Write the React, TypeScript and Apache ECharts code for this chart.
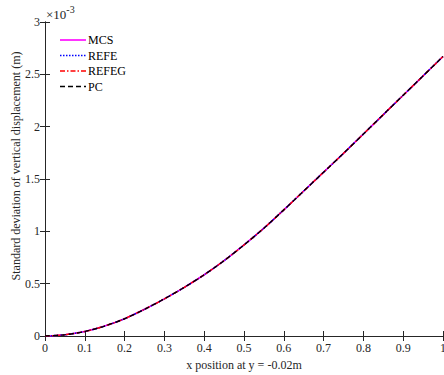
import React, { useEffect, useRef } from "react";
import * as echarts from "echarts";

// x positions (m)
const xPos = [0, 0.05, 0.1, 0.15, 0.2, 0.25, 0.3, 0.35, 0.4, 0.45, 0.5, 0.55, 0.6, 0.65, 0.7, 0.75, 0.8, 0.85, 0.9, 0.95, 1.0];
// standard deviation values in units of 1e-3 m
const mcs = [0, 0.012, 0.043, 0.095, 0.165, 0.255, 0.355, 0.465, 0.585, 0.72, 0.87, 1.03, 1.205, 1.385, 1.565, 1.745, 1.93, 2.115, 2.3, 2.485, 2.67];
const refe = [0, 0.012, 0.043, 0.095, 0.165, 0.255, 0.355, 0.465, 0.585, 0.72, 0.87, 1.03, 1.205, 1.385, 1.565, 1.745, 1.93, 2.115, 2.3, 2.485, 2.67];
const refeg = [0, 0.012, 0.043, 0.095, 0.165, 0.255, 0.355, 0.465, 0.585, 0.72, 0.87, 1.03, 1.205, 1.385, 1.565, 1.745, 1.93, 2.115, 2.3, 2.485, 2.67];
const pc = [0, 0.012, 0.043, 0.095, 0.165, 0.255, 0.355, 0.465, 0.585, 0.72, 0.87, 1.03, 1.205, 1.385, 1.565, 1.745, 1.93, 2.115, 2.3, 2.485, 2.67];
const seriesNames = ["MCS", "REFE", "REFEG", "PC"];
const seriesColors = ["#ff00ff", "#0000ff", "#ff0000", "#000000"];
const seriesDash: (number[] | null)[] = [null, [1.5, 1.5], [5, 2, 1.5, 2], [5, 3]];
const seriesWidth = [1.6, 1.5, 1.4, 1.4];
const seriesData = [mcs, refe, refeg, pc];

const FONT = "Times New Roman";
const AX = "#262626";

export default function App() {
  const ref = useRef<HTMLDivElement>(null);
  useEffect(() => {
    if (!ref.current) return;
    const chart = echarts.init(ref.current, null, { renderer: "svg" });
    const pair = (ys: number[]) => xPos.map((x, i) => [x, ys[i]]);
    const axisCommon = {
      axisLine: { show: true, lineStyle: { color: AX, width: 1 } },
      axisTick: { show: true, inside: true, length: 5, lineStyle: { color: AX } },
      splitLine: { show: false },
    };
    const legendGraphics: any[] = [];
    seriesNames.forEach((n, i) => {
      const y = 40 + i * 15.5;
      legendGraphics.push({
        type: "line",
        shape: { x1: 60, y1: y, x2: 86, y2: y },
        style: { stroke: seriesColors[i], lineWidth: seriesWidth[i], lineDash: seriesDash[i] || undefined },
      });
      legendGraphics.push({
        type: "text",
        x: 88,
        y: y,
        style: { text: n, fontFamily: FONT, fontSize: 12, fill: "#000", verticalAlign: "middle", align: "left" },
      });
    });
    chart.setOption({
      animation: false,
      backgroundColor: "#ffffff",
      textStyle: { fontFamily: FONT },
      grid: { left: 45, right: 1, top: 22, bottom: 39, containLabel: false, outerBoundsMode: "none" },
      xAxis: [
        {
          type: "value",
          min: 0,
          max: 1,
          interval: 0.1,
          ...axisCommon,
          axisLabel: { fontFamily: FONT, fontSize: 12, color: AX, margin: 6, formatter: (v: number) => String(+v.toFixed(1)) },
          name: "x position at y = -0.02m",
          nameLocation: "middle",
          nameGap: 20,
          nameTextStyle: { fontFamily: FONT, fontSize: 12, color: AX },
        },
        { type: "value", min: 0, max: 1, interval: 0.1, position: "top", ...axisCommon, axisLabel: { show: false } },
      ],
      yAxis: [
        {
          type: "value",
          min: 0,
          max: 3,
          interval: 0.5,
          ...axisCommon,
          axisLabel: { fontFamily: FONT, fontSize: 12, color: AX, margin: 5, formatter: (v: number) => String(+v.toFixed(1)) },
        },
        { type: "value", min: 0, max: 3, interval: 0.5, position: "right", ...axisCommon, axisLabel: { show: false } },
      ],
      graphic: [
        {
          type: "text",
          left: 46,
          top: 4,
          style: {
            text: "{a|×10}{b|-3}",
            rich: {
              a: { fontFamily: FONT, fontSize: 13, fill: AX, verticalAlign: "bottom" },
              b: { fontFamily: FONT, fontSize: 10, fill: AX, verticalAlign: "top", padding: [0, 0, 7, 0] },
            },
          },
        },
        {
          type: "text",
          x: 16,
          y: 166,
          rotation: Math.PI / 2,
          style: {
            text: "Standard deviation of vertical displacement (m)",
            fontFamily: FONT,
            fontSize: 12,
            fill: AX,
            align: "center",
            verticalAlign: "middle",
          },
        },
        ...legendGraphics,
      ],
      series: seriesNames.map((n, i) => ({
        name: n,
        type: "line",
        data: pair(seriesData[i]),
        smooth: 0.3,
        symbol: "none",
        lineStyle: { color: seriesColors[i], width: seriesWidth[i], type: seriesDash[i] || "solid" },
        itemStyle: { color: seriesColors[i] },
      })),
    });
    return () => chart.dispose();
  }, []);
  return <div ref={ref} style={{ width: 444, height: 375, position: "absolute", left: 0, top: 0 }} />;
}
